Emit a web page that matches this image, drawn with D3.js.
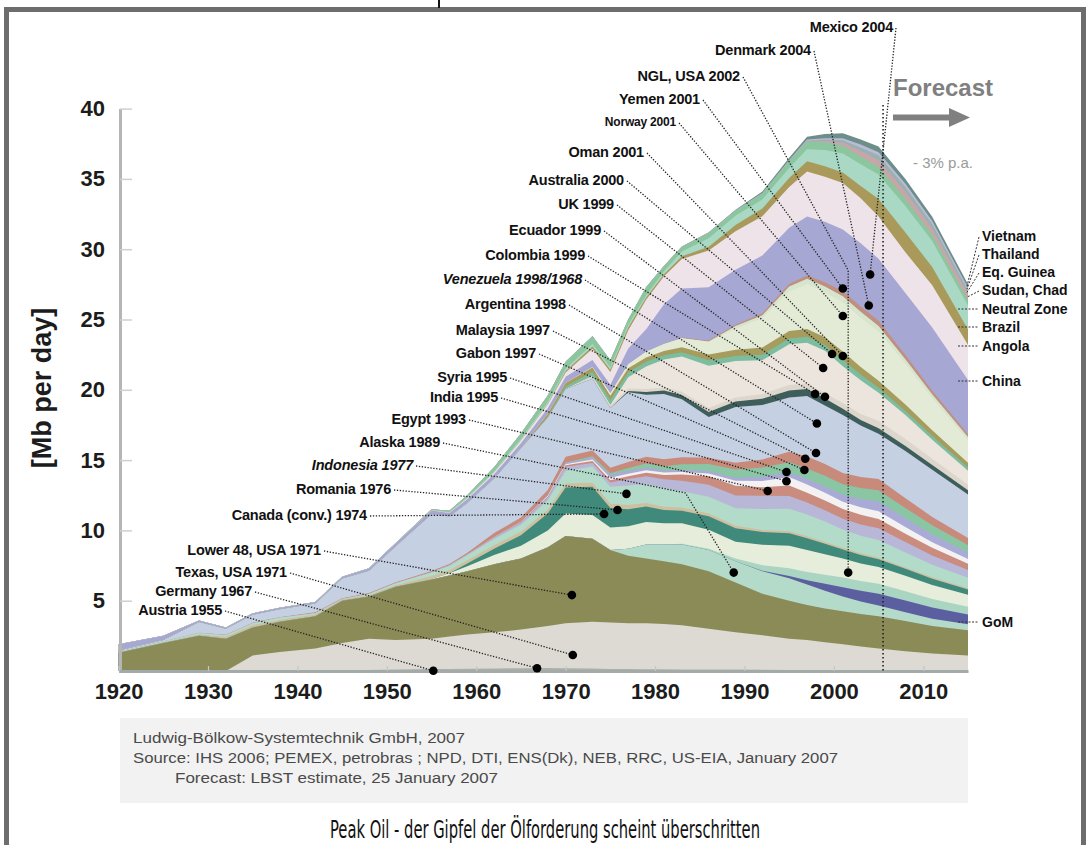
<!DOCTYPE html>
<html><head><meta charset="utf-8">
<script src="https://cdn.jsdelivr.net/npm/d3@7"></script>
<style>body{margin:0;background:#fff}svg{display:block}</style>
</head><body>
<svg id="c" width="1087" height="845"></svg>
<script>
// ---------------- DATA (Mb per day) ----------------
const years = [1920,1925,1929,1932,1935,1938,1942,1945,1948,1951,1955,1957,1959,1962,1965,1968,1970,1973,1975,1977,1979,1981,1983,1986,1989,1992,1995,1997,1999,2001,2003,2005,2008,2011,2015];
const xTickYears = [1920,1930,1940,1950,1960,1970,1980,1990,2000,2010];
const yTickValues = [5,10,15,20,25,30,35,40];
const forecastYear = 2005.5;

const austria   = [0,0,0,0,0.03,0.05,0.05,0.05,0.05,0.06,0.08,0.07,0.06,0.05,0.05,0.05,0.05,0.04,0.04,0.04,0.04,0.03,0.03,0.03,0.03,0.03,0.02,0.02,0.02,0.02,0.02,0.02,0.02,0.02,0.02];
const germany   = [0,0,0,0,0.01,0.01,0.02,0.01,0.02,0.04,0.06,0.08,0.1,0.13,0.15,0.16,0.15,0.13,0.11,0.1,0.09,0.09,0.08,0.08,0.07,0.06,0.06,0.06,0.06,0.06,0.06,0.06,0.05,0.05,0.04];
const texas     = [0,0,0,0,1.06,1.29,1.53,1.94,2.23,2.1,2.16,2.3,2.44,2.57,2.75,2.99,3.2,3.33,3.3,3.26,3.27,3.23,3.14,2.89,2.65,2.46,2.22,2.12,1.97,1.82,1.67,1.52,1.33,1.18,1.04];
const lower48   = [1.3,2.0,2.5,2.3,2.0,2.15,2.3,3.0,3.0,3.8,4.2,4.35,4.5,4.85,5.05,5.6,6.2,5.9,5.15,4.8,4.6,4.45,4.35,4.1,3.55,2.95,2.7,2.5,2.4,2.35,2.3,2.3,2.15,1.95,1.8];
const alaska    = [0,0,0,0,0,0,0,0,0,0,0,0,0,0,0,0,0,0,0,0.5,1.0,1.2,1.4,1.5,1.5,1.6,1.6,1.45,1.25,1.05,0.9,0.75,0.62,0.52,0.42];
const gom       = [0,0,0,0,0,0,0,0,0,0,0,0,0,0,0,0,0,0,0,0,0,0,0,0,0,0.03,0.15,0.3,0.5,0.65,0.75,0.85,0.85,0.8,0.7];
const usOffshore= [0,0,0,0,0,0,0,0,0,0,0,0,0,0,0,0,0,0,0,0,0,0,0.05,0.1,0.2,0.4,0.55,0.6,0.65,0.7,0.7,0.7,0.65,0.6,0.55];
const nglUsa    = [0,0,0,0,0,0,0,0,0,0,0.05,0.15,0.35,0.65,0.9,1.2,1.6,1.7,1.6,1.6,1.6,1.5,1.45,1.35,1.2,1.45,1.6,1.55,1.45,1.35,1.25,1.2,1.1,1.0,0.85];
const canada    = [0,0,0,0,0,0,0,0,0,0,0,0,0.2,0.45,0.75,1.2,1.85,2.0,1.4,1.2,1.1,0.95,0.9,0.95,0.95,0.9,0.9,0.85,0.75,0.65,0.6,0.55,0.5,0.45,0.38];
const romania   = [0.02,0.04,0.1,0.14,0.17,0.13,0.11,0.1,0.08,0.1,0.2,0.22,0.23,0.24,0.26,0.27,0.28,0.29,0.3,0.3,0.25,0.24,0.23,0.2,0.18,0.14,0.14,0.13,0.13,0.12,0.12,0.11,0.1,0.09,0.08];
const indonesia = [0.05,0.06,0.1,0.1,0.13,0.15,0.1,0.02,0.09,0.15,0.25,0.3,0.35,0.45,0.5,0.65,0.9,1.15,1.2,1.4,1.35,1.3,1.15,1.2,1.25,1.5,1.6,1.55,1.45,1.3,1.25,1.25,1.05,0.9,0.75];
const egypt     = [0,0,0,0,0,0,0,0,0,0,0.03,0.05,0.06,0.1,0.15,0.2,0.3,0.25,0.3,0.45,0.55,0.65,0.75,0.85,0.9,0.95,0.9,0.85,0.8,0.75,0.8,0.85,0.75,0.65,0.55];
const india     = [0,0,0,0,0,0,0,0,0,0,0,0,0,0.02,0.05,0.08,0.1,0.15,0.17,0.2,0.25,0.3,0.45,0.6,0.7,0.6,0.75,0.7,0.7,0.7,0.7,0.65,0.6,0.55,0.45];
const syria     = [0,0,0,0,0,0,0,0,0,0,0,0,0,0,0,0.05,0.08,0.1,0.17,0.18,0.17,0.17,0.18,0.2,0.35,0.45,0.6,0.58,0.55,0.52,0.52,0.55,0.48,0.4,0.33];
const gabon     = [0,0,0,0,0,0,0,0,0,0,0,0,0,0.02,0.02,0.07,0.1,0.15,0.22,0.22,0.2,0.15,0.16,0.17,0.22,0.3,0.35,0.4,0.45,0.5,0.6,0.7,0.62,0.55,0.45];
const malaysia  = [0,0,0,0,0,0,0,0,0,0,0,0,0,0,0,0,0.02,0.08,0.1,0.18,0.28,0.3,0.38,0.5,0.58,0.65,0.7,0.75,0.75,0.75,0.78,0.8,0.72,0.65,0.55];
const argentina = [0,0,0.02,0.03,0.04,0.05,0.06,0.06,0.07,0.07,0.09,0.09,0.12,0.28,0.28,0.35,0.4,0.42,0.4,0.44,0.48,0.5,0.5,0.45,0.48,0.58,0.75,0.85,0.85,0.8,0.78,0.8,0.7,0.6,0.5];
const venezuela = [0.08,0.1,0.76,0.44,0.56,0.57,0.63,1.4,1.59,2.56,4.04,3.38,3.54,3.88,4.94,5.16,4.82,5.1,4.25,4.96,4.41,4.64,4.13,2.9,3.96,3.87,3.86,4.3,4.16,4.12,3.66,3.22,3.36,3.36,3.09];
const colombia  = [0,0,0,0,0,0,0,0,0,0,0,0,0,0,0,0,0,0,0,0.08,0.2,0.25,0.3,0.35,0.4,0.45,0.5,0.5,0.5,0.45,0.4,0.38,0.35,0.33,0.3];
const ecuador   = [0,0,0,0,0,0,0,0,0,0,0,0,0,0,0,0,0.01,0.2,0.16,0.18,0.21,0.21,0.24,0.29,0.28,0.33,0.39,0.39,0.38,0.41,0.42,0.53,0.5,0.45,0.4];
const uk        = [0,0,0,0,0,0,0,0,0,0,0,0,0,0,0,0,0,0,0.05,0.8,1.6,2.0,2.5,3.0,2.6,2.4,2.9,2.9,3.0,2.6,2.4,2.0,1.7,1.35,1.0];
const australia = [0,0,0,0,0,0,0,0,0,0,0,0,0,0,0.01,0.05,0.17,0.3,0.35,0.35,0.35,0.3,0.3,0.4,0.35,0.4,0.4,0.42,0.42,0.45,0.4,0.35,0.3,0.27,0.22];
const oman      = [0,0,0,0,0,0,0,0,0,0,0,0,0,0,0,0.2,0.25,0.3,0.3,0.3,0.3,0.3,0.35,0.4,0.45,0.5,0.55,0.55,0.55,0.6,0.55,0.5,0.45,0.4,0.35];
const norway    = [0,0,0,0,0,0,0,0,0,0,0,0,0,0,0,0,0,0.03,0.19,0.28,0.4,0.5,0.65,0.9,1.5,2.1,2.8,3.2,3.2,3.5,3.5,3.5,2.9,2.3,1.6];
const yemen     = [0,0,0,0,0,0,0,0,0,0,0,0,0,0,0,0,0,0,0,0,0,0,0,0.02,0.18,0.2,0.35,0.38,0.41,0.44,0.42,0.4,0.33,0.27,0.22];
const denmark   = [0,0,0,0,0,0,0,0,0,0,0,0,0,0,0,0,0,0,0,0.01,0.01,0.02,0.04,0.07,0.1,0.15,0.19,0.23,0.3,0.35,0.37,0.38,0.3,0.24,0.2];
const mexico    = [0.45,0.3,0.12,0.09,0.1,0.1,0.1,0.12,0.16,0.2,0.25,0.25,0.27,0.3,0.33,0.4,0.45,0.5,0.6,1.1,1.6,2.8,3.5,3.8,3.9,4.1,4.0,4.2,4.3,4.4,4.5,4.4,4.4,4.5,3.85];
const china     = [0,0,0,0,0,0,0,0,0,0.01,0.02,0.03,0.07,0.12,0.2,0.3,0.3,0.8,0.9,1.3,2.1,2.0,2.1,2.6,2.75,2.8,2.9,3.2,3.2,3.3,3.2,3.0,2.9,3.0,2.5];
const angola    = [0,0,0,0,0,0,0,0,0,0,0,0,0,0,0.01,0.02,0.1,0.16,0.16,0.2,0.15,0.13,0.18,0.28,0.45,0.54,0.63,0.72,0.75,0.74,0.87,1.25,1.4,1.3,1.1];
const brazil    = [0,0,0,0,0,0,0,0,0.01,0.01,0.02,0.03,0.06,0.09,0.1,0.15,0.17,0.17,0.18,0.17,0.17,0.22,0.34,0.6,0.65,0.65,0.72,0.85,1.15,1.35,1.55,1.75,1.9,1.85,1.7];
const neutralZone=[0,0,0,0,0,0,0,0,0,0,0.05,0.1,0.15,0.3,0.4,0.45,0.5,0.55,0.5,0.4,0.57,0.37,0.35,0.38,0.35,0.4,0.5,0.55,0.55,0.55,0.55,0.55,0.5,0.45,0.4];
const sudanChad = [0,0,0,0,0,0,0,0,0,0,0,0,0,0,0,0,0,0,0,0,0,0,0,0,0,0,0,0.01,0.1,0.22,0.4,0.45,0.5,0.45,0.4];
const eqGuinea  = [0,0,0,0,0,0,0,0,0,0,0,0,0,0,0,0,0,0,0,0,0,0,0,0,0,0,0.01,0.06,0.1,0.18,0.25,0.36,0.35,0.32,0.28];
const thailand  = [0,0,0,0,0,0,0,0,0,0,0,0,0,0,0,0,0,0,0,0,0,0,0.02,0.03,0.04,0.05,0.06,0.08,0.1,0.15,0.2,0.22,0.22,0.2,0.18];
const vietnam   = [0,0,0,0,0,0,0,0,0,0,0,0,0,0,0,0,0,0,0,0,0,0,0,0.01,0.03,0.11,0.15,0.2,0.3,0.35,0.36,0.4,0.35,0.3,0.25];

// peak annotations: label, peak year, value inside its band
const peakLabels = ["Mexico 2004","Denmark 2004","NGL, USA 2002","Yemen 2001","Norway 2001","Oman 2001","Australia 2000","UK 1999","Ecuador 1999","Colombia 1999","Venezuela 1998/1968","Argentina 1998","Malaysia 1997","Gabon 1997","Syria 1995","India 1995","Egypt 1993","Alaska 1989","Indonesia 1977","Romania 1976","Canada (conv.) 1974","Lower 48, USA  1971","Texas, USA 1971","Germany 1967","Austria 1955"];
const peakYears  = [2004.05,2003.9,2001.6,2001.0,2001.0,2001.0,1999.8,1998.8,1999.0,1997.9,1998.1,1998.0,1996.8,1996.7,1994.7,1994.7,1992.6,1988.8,1976.8,1975.8,1974.3,1970.7,1970.8,1966.8,1955.2];
const peakValues = [28.2,26.0,7.0,27.2,25.25,22.4,22.55,21.55,19.5,19.7,17.6,15.5,15.1,14.3,14.15,13.5,12.8,7.0,12.6,11.45,11.17,5.4,1.14,0.2,0.02];
const bendYears  = {"NGL, USA 2002":2001.6, "Alaska 1989":1983.4};
const bendValues = {"NGL, USA 2002":28.5, "Alaska 1989":12.66};

const rightLabels = ["Vietnam","Thailand","Eq. Guinea","Sudan, Chad","Neutral Zone","Brazil","Angola","China","GoM"];

// ---------------- LAYOUT ----------------
const layers = [
 ["Austria",austria,"#6f8584"],["Germany",germany,"#aeb0a8"],["Texas",texas,"#dddad3"],["Lower 48",lower48,"#8b8b58"],
 ["Alaska",alaska,"#b4dac9"],["GoM",gom,"#5b5f9f"],["USA offshore",usOffshore,"#a9d5c2"],["NGL USA",nglUsa,"#e6edda"],
 ["Canada",canada,"#3f8a7a"],["Romania",romania,"#cdbfa0"],["Indonesia",indonesia,"#b3dbc9"],["Egypt",egypt,"#b8b7d8"],
 ["India",india,"#c98c7e"],["Syria",syria,"#f3f1f1"],["Gabon",gabon,"#a9abd6"],["Malaysia",malaysia,"#8ac6a3"],
 ["Argentina",argentina,"#c78a7b"],["Venezuela",venezuela,"#c5d0e3"],["Colombia",colombia,"#3e5e5b"],["Ecuador",ecuador,"#ddd6cc"],
 ["UK",uk,"#ebe5de"],["Australia",australia,"#7cbc9f"],["Oman",oman,"#a69c5e"],["Norway",norway,"#e3ebd7"],
 ["Yemen",yemen,"#d6e5cd"],["Denmark",denmark,"#c08f7f"],["Mexico",mexico,"#a7a7d4"],["China",china,"#ede3e8"],
 ["Angola",angola,"#a99a5c"],["Brazil",brazil,"#a9d8c4"],["Neutral Zone",neutralZone,"#8cc69e"],["Sudan, Chad",sudanChad,"#c7a6aa"],
 ["Eq. Guinea",eqGuinea,"#9bb1b0"],["Thailand",thailand,"#b9bbd9"],["Vietnam",vietnam,"#6e8f89"]
];
const keys = layers.map(l=>l[0]);
const colorOf = Object.fromEntries(layers.map(l=>[l[0],l[2]]));
const table = years.map((yr,i)=>{const r={year:yr}; layers.forEach(l=>r[l[0]]=l[1][i]); return r;});
const stacked = d3.stack().keys(keys)(table);

const FONT = "'Liberation Sans', Arial, Helvetica, sans-serif";
const svg = d3.select("#c");
const x = d3.scaleLinear().domain([1920,2015]).range([118.6,968]);
const y = d3.scaleLinear().domain([0,40]).range([671,108.6]);

// frame
svg.append("rect").attr("x",6.5).attr("y",9.5).attr("width",1077).attr("height",900)
  .attr("fill","none").attr("stroke","#6d6d6d").attr("stroke-width",5);
svg.append("line").attr("x1",439).attr("x2",439).attr("y1",0).attr("y2",8).attr("stroke","#111").attr("stroke-width",2);

// footer box
svg.append("rect").attr("x",120).attr("y",718).attr("width",848).attr("height",85).attr("fill","#f2f2f2");

// areas: each drawn from baseline to its cumulative top, top layer first (no seams)
const area = d3.area().x((d,i)=>x(years[i])).y0(y(0)).y1(d=>y(d[1]));
svg.append("g").selectAll("path").data(stacked.slice().reverse()).join("path")
  .attr("d",area).attr("fill",d=>colorOf[d.key]);

// axes
const yAxis = d3.axisLeft(y).tickValues(yTickValues).tickSize(-12).tickSizeOuter(0).tickPadding(15);
const gy = svg.append("g").attr("transform","translate(120,0)").call(yAxis);
gy.select(".domain").attr("stroke","#b5b5b5").attr("stroke-width",3);
gy.selectAll(".tick line").attr("stroke","#cfcfcf").attr("stroke-width",1.5);
gy.selectAll(".tick text").attr("font-family",FONT).attr("font-weight","bold").attr("font-size",22).attr("fill","#1c1c1c");

const xAxis = d3.axisBottom(x).tickValues(xTickYears).tickFormat(d3.format("d")).tickSize(-5).tickSizeOuter(0).tickPadding(12);
const gx = svg.append("g").attr("transform","translate(0,671)").call(xAxis);
gx.select(".domain").attr("stroke","#a3abaa").attr("stroke-width",3);
gx.selectAll(".tick line").attr("stroke","#c6c6c6").attr("stroke-width",1.2);
gx.selectAll(".tick text").attr("font-family",FONT).attr("font-weight","bold").attr("font-size",22).attr("fill","#1c1c1c");

svg.append("text").attr("transform","translate(42,388) rotate(-90)").attr("text-anchor","middle")
  .attr("dominant-baseline","central").attr("font-family",FONT).attr("font-weight","bold").attr("font-size",27)
  .attr("fill","#1c1c1c").text("[Mb per day]");

// forecast marker
svg.append("line").attr("x1",x(forecastYear)).attr("x2",x(forecastYear)).attr("y1",105).attr("y2",y(0))
  .attr("stroke","#222").attr("stroke-width",1.6).attr("stroke-dasharray","1.6,2.4");
svg.append("text").attr("x",893).attr("y",96).attr("font-family",FONT).attr("font-weight","bold")
  .attr("font-size",24).attr("fill","#808080").text("Forecast");
svg.append("line").attr("x1",893).attr("x2",952).attr("y1",117.5).attr("y2",117.5).attr("stroke","#808080").attr("stroke-width",6);
svg.append("path").attr("d","M949,108 L970,117.5 L949,127 Z").attr("fill","#808080");
svg.append("text").attr("x",913).attr("y",168).attr("font-family",FONT).attr("font-size",15)
  .attr("fill","#9a9a9a").text("- 3% p.a.");

// peak annotations
const labelPos = {
 "Mexico 2004":[893,27],"Denmark 2004":[811,50],"NGL, USA 2002":[740,76],"Yemen 2001":[700,99],"Norway 2001":[676,122],
 "Oman 2001":[644,152],"Australia 2000":[624,180],"UK 1999":[614,204],"Ecuador 1999":[601,230],"Colombia 1999":[585,255],
 "Venezuela 1998/1968":[582,279],"Argentina 1998":[566,304],"Malaysia 1997":[550,330],"Gabon 1997":[536,353],
 "Syria 1995":[507,377],"India 1995":[498,397],"Egypt 1993":[466,419],"Alaska 1989":[440,442],"Indonesia 1977":[413,465],
 "Romania 1976":[391,489],"Canada (conv.) 1974":[367,515],"Lower 48, USA  1971":[321,550],"Texas, USA 1971":[287,572],
 "Germany 1967":[252,591],"Austria 1955":[222,610]};
const italic = new Set(["Venezuela 1998/1968","Indonesia 1977"]);
const gl = svg.append("g");
peakLabels.forEach((lab,i)=>{
  const [lx,ly] = labelPos[lab];
  const pts = [[lx+3, ly+1]];
  if (bendYears[lab]!==undefined) pts.push([x(bendYears[lab]), y(bendValues[lab])]);
  pts.push([x(peakYears[i]), y(peakValues[i])]);
  gl.append("path").attr("d",d3.line()(pts)).attr("fill","none").attr("stroke","#222")
    .attr("stroke-width",1.3).attr("stroke-dasharray","1.3,1.6");
});
peakLabels.forEach((lab,i)=>{
  gl.append("circle").attr("cx",x(peakYears[i])).attr("cy",y(peakValues[i])).attr("r",4.3).attr("fill","#000");
});
peakLabels.forEach(lab=>{
  const [lx,ly] = labelPos[lab];
  gl.append("text").attr("x",lx).attr("y",ly).attr("dy","0.36em").attr("text-anchor","end")
    .attr("font-family",FONT).attr("font-weight","bold").attr("font-size",lab==="Norway 2001"?12:14.5)
    .attr("font-style",italic.has(lab)?"italic":"normal").attr("letter-spacing",-0.2)
    .attr("fill","#111").text(lab);
});

// right-hand labels
const rightY = [236,254,272,290,309,327,346,381,622];
const last = years.length-1;
rightLabels.forEach((lab,i)=>{
  const s = stacked.find(d=>d.key===lab);
  const ly = rightY[i];
  if (i<4){
    const mid = (s[last][0]+s[last][1])/2;
    svg.append("line").attr("x1",979).attr("y1",ly+1).attr("x2",x(2015)-1).attr("y2",y(mid))
      .attr("stroke","#333").attr("stroke-width",1).attr("stroke-dasharray","2,1.5");
  } else {
    svg.append("line").attr("x1",958).attr("y1",ly).attr("x2",978).attr("y2",ly)
      .attr("stroke","#333").attr("stroke-width",1).attr("stroke-dasharray","2,1.5");
  }
  svg.append("text").attr("x",982).attr("y",ly).attr("dy","0.36em").attr("font-family",FONT)
    .attr("font-weight","bold").attr("font-size",14).attr("fill","#111").text(lab);
});

// footer text
const ft = [["Ludwig-Bölkow-Systemtechnik GmbH, 2007",133,743,332],
 ["Source: IHS 2006; PEMEX, petrobras ;  NPD, DTI, ENS(Dk), NEB, RRC, US-EIA, January 2007",133,763,705],
 ["Forecast: LBST estimate, 25 January 2007",175,783,323]];
ft.forEach(([t,fx,fy,len])=>svg.append("text").attr("x",fx).attr("y",fy).attr("font-family",FONT)
  .attr("font-size",14).attr("fill","#4a4a4a").attr("textLength",len).attr("lengthAdjust","spacingAndGlyphs").text(t));

svg.append("text").attr("x",330).attr("y",838).attr("font-family","'DejaVu Sans', sans-serif")
  .attr("font-size",25).attr("fill","#111").attr("textLength",430).attr("lengthAdjust","spacingAndGlyphs")
  .text("Peak Oil - der Gipfel der Ölforderung scheint überschritten");
</script>
</body></html>
